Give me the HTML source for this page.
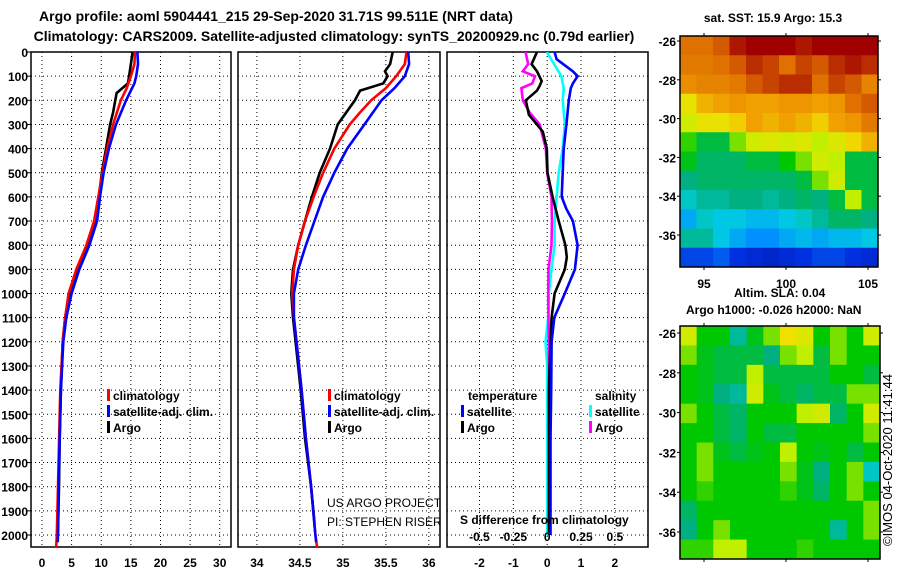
<!DOCTYPE html>
<html><head><meta charset="utf-8">
<style>
html,body{margin:0;padding:0;background:#fff;}
svg{display:block;font-family:"Liberation Sans",sans-serif;}
.b{font-weight:bold;font-size:12px;}
.t{font-weight:bold;font-size:14px;}
</style></head>
<body>
<svg id="fig" width="900" height="580" viewBox="0 0 900 580" xmlns="http://www.w3.org/2000/svg">
<rect width="900" height="580" fill="#fff"/>
<text class="t" x="276" y="21" text-anchor="middle">Argo profile: aoml 5904441_215 29-Sep-2020 31.71S 99.511E (NRT data)</text>
<text class="t" x="334" y="41" text-anchor="middle">Climatology: CARS2009. Satellite-adjusted climatology: synTS_20200929.nc (0.79d earlier)</text>
<text class="b" x="773" y="22" text-anchor="middle">sat. SST: 15.9 Argo: 15.3</text>
<text class="b" x="734" y="297">Altim. SLA: 0.04</text>
<text class="b" x="686" y="314">Argo h1000: -0.026 h2000: NaN</text>
<text x="892" y="460" font-size="13" text-anchor="middle" transform="rotate(-90 892 460)">©IMOS 04-Oct-2020 11:41:44</text>
<g id="plots"></g>
</svg>
<script>
// ---- data ----
const depthT = [0,50,100,130,170,250,300,400,500,600,700,800,900,1000,1100,1200,1400,1600,1800,1990];
const argoT  = [15.3,15.0,14.7,14.5,12.6,12.0,11.5,10.8,10.1,9.6,9.1,7.9,6.1,4.7,3.9,3.5,3.2,3.0,2.87,2.7];
const depthC = [0,50,100,150,200,300,400,500,600,700,800,900,1000,1100,1200,1400,1600,1800,2000,2050];
const climT  = [15.7,15.6,15.0,14.3,13.3,12.0,11.0,10.2,9.5,8.8,7.5,5.8,4.5,3.9,3.5,3.1,2.9,2.7,2.5,2.4];
const depthS2= [0,50,100,130,200,300,400,500,600,700,800,900,1000,1100,1200,1400,1600,1800,2000,2030];
const satT   = [16.1,16.2,15.9,15.6,14.2,12.5,11.3,10.4,9.8,9.3,8.0,6.3,5.0,4.1,3.6,3.2,3.0,2.8,2.7,2.65];

const depthAS = [0,50,80,100,130,160,200,250,300,400,500,600,700,800,900,1000,1100,1200,1400,1600,1800,1950];
const argoS   = [35.58,35.55,35.49,35.52,35.47,35.2,35.14,35.04,34.94,34.85,34.73,34.64,34.56,34.48,34.42,34.40,34.42,34.45,34.51,34.56,34.63,34.67];
const depthCS = [0,50,100,150,200,250,300,400,500,600,700,800,900,1000,1100,1200,1400,1600,1800,2000,2050];
const climS   = [35.74,35.72,35.62,35.5,35.33,35.2,35.08,34.9,34.77,34.66,34.56,34.48,34.43,34.41,34.43,34.46,34.52,34.57,34.63,34.68,34.70];
const depthSS = [0,50,100,150,200,300,400,500,600,700,800,900,1000,1100,1200,1400,1600,1800,2000,2030];
const satS    = [35.76,35.77,35.72,35.6,35.45,35.25,35.05,34.9,34.77,34.67,34.57,34.48,34.43,34.43,34.46,34.52,34.57,34.63,34.68,34.69];

const depthDT = [0,30,80,100,130,150,200,300,400,500,600,650,700,800,900,1000,1100,1200,1400,1600,2000];
const satDT   = [0.22,0.28,0.76,0.9,0.76,0.7,0.64,0.57,0.49,0.46,0.43,0.57,0.76,0.9,0.82,0.52,0.21,0.13,0.12,0.1,0.1];
const depthAD = [0,50,80,120,140,160,200,260,300,330,400,500,600,700,800,850,900,1000,1100,1200,1400,1990];
const argoDT  = [-0.3,-0.46,-0.3,-0.16,-0.22,-0.3,-0.63,-0.54,-0.3,-0.13,-0.01,0.01,0.16,0.34,0.54,0.58,0.52,0.22,0.13,0.1,0.05,0.05];
const depthAS2= [0,50,80,100,130,150,200,250,300,400,500,600,700,800,900,1000,1200,1600,1990];
const argoDS  = [-0.16,-0.14,-0.18,-0.09,-0.11,-0.19,-0.18,-0.13,-0.055,-0.01,0.0,0.032,0.035,0.032,0.01,0.008,0.012,0.015,0.015];
const depthSS2= [0,100,150,200,300,400,500,600,700,800,900,1000,1100,1200,1300,1400,2000];
const satDS   = [-0.003,0.105,0.122,0.115,0.13,0.115,0.085,0.07,0.055,0.055,0.032,0.012,0.008,-0.012,0.0,0.0,0.0];

const sstGrid = [
[0.82,0.82,0.84,0.9,0.92,0.92,0.92,0.9,0.92,0.92,0.92,0.92],
[0.8,0.8,0.82,0.84,0.88,0.86,0.82,0.86,0.84,0.88,0.9,0.88],
[0.76,0.78,0.78,0.8,0.84,0.86,0.88,0.88,0.82,0.86,0.84,0.78],
[0.64,0.7,0.72,0.74,0.72,0.72,0.74,0.74,0.72,0.74,0.82,0.84],
[0.6,0.64,0.64,0.67,0.72,0.7,0.72,0.7,0.67,0.72,0.74,0.8],
[0.52,0.45,0.45,0.55,0.6,0.62,0.6,0.62,0.58,0.62,0.66,0.7],
[0.48,0.42,0.42,0.42,0.45,0.45,0.5,0.55,0.6,0.58,0.45,0.45],
[0.4,0.42,0.42,0.42,0.42,0.42,0.42,0.45,0.55,0.6,0.45,0.45],
[0.35,0.38,0.38,0.4,0.4,0.38,0.4,0.42,0.4,0.45,0.58,0.45],
[0.28,0.35,0.32,0.32,0.3,0.3,0.32,0.35,0.38,0.42,0.42,0.4],
[0.38,0.38,0.32,0.28,0.25,0.25,0.28,0.3,0.28,0.3,0.3,0.32],
[0.15,0.15,0.18,0.12,0.1,0.08,0.1,0.12,0.15,0.15,0.12,0.1]];
const slaGrid = [
[0.6,0.5,0.5,0.38,0.48,0.55,0.65,0.62,0.5,0.55,0.5,0.6],
[0.55,0.48,0.45,0.45,0.45,0.4,0.55,0.58,0.45,0.55,0.5,0.5],
[0.5,0.48,0.45,0.45,0.58,0.45,0.45,0.45,0.45,0.5,0.5,0.45],
[0.5,0.48,0.4,0.38,0.6,0.48,0.45,0.42,0.45,0.45,0.55,0.55],
[0.55,0.5,0.45,0.42,0.5,0.5,0.5,0.58,0.6,0.42,0.5,0.6],
[0.5,0.5,0.45,0.42,0.5,0.45,0.45,0.5,0.5,0.5,0.5,0.55],
[0.5,0.55,0.48,0.45,0.48,0.5,0.58,0.5,0.48,0.5,0.45,0.5],
[0.5,0.55,0.5,0.5,0.5,0.5,0.55,0.48,0.4,0.5,0.55,0.35],
[0.5,0.52,0.5,0.5,0.5,0.5,0.52,0.48,0.42,0.5,0.55,0.5],
[0.42,0.5,0.5,0.5,0.5,0.5,0.5,0.5,0.5,0.5,0.5,0.55],
[0.4,0.5,0.55,0.5,0.5,0.5,0.5,0.5,0.5,0.38,0.5,0.55],
[0.52,0.52,0.58,0.58,0.5,0.5,0.5,0.52,0.5,0.5,0.5,0.5]];
const depthTicks = [0,100,200,300,400,500,600,700,800,900,1000,1100,1200,1300,1400,1500,1600,1700,1800,1900,2000];
const tTicks = [0,5,10,15,20,25,30];
const sTicks = [34,34.5,35,35.5,36];
const sTickLabels = ["34","34.5","35","35.5","36"];
const dTicks = [-2,-1,0,1,2];
const latTicks = [-26,-28,-30,-32,-34,-36];
const lonTicks = [95,100,105];

// ---- helpers ----
const NS="http://www.w3.org/2000/svg";
const root=document.getElementById('plots');
function mk(tag,attrs,parent){const e=document.createElementNS(NS,tag);for(const k in attrs)e.setAttribute(k,attrs[k]);(parent||root).appendChild(e);return e;}
const Y0=52, PXM=0.2415;
const yD=d=>Y0+d*PXM;
const YB=547;

const panels=[
 {name:'temperature',x0:31,x1:231,vmin:-1.85,vmax:31.9,ticks:tTicks,labels:tTicks.map(String)},
 {name:'salinity',x0:238,x1:440,vmin:33.78,vmax:36.13,ticks:sTicks,labels:sTickLabels},
 {name:'difference',x0:447,x1:648,vmin:-2.96,vmax:2.98,ticks:dTicks,labels:dTicks.map(String)}
];
panels.forEach((p,i)=>{
  p.sx=v=>p.x0+(v-p.vmin)/(p.vmax-p.vmin)*(p.x1-p.x0);
  const g=mk('g',{});
  
  
  p.g=g;
  const cp=mk('clipPath',{id:'cp'+i},g);
  mk('rect',{x:p.x0,y:Y0,width:p.x1-p.x0,height:YB-Y0},cp);
  depthTicks.forEach(d=>{
    const l=mk('line',{x1:p.x0,x2:p.x1,y1:yD(d),y2:yD(d),stroke:'#000','stroke-width':1,'stroke-dasharray':'1 3'},g);
    
    
    if(i===0){
      mk('line',{x1:p.x0-4,x2:p.x0,y1:yD(d),y2:yD(d),stroke:'#000'},g);
      const t=mk('text',{x:28,y:yD(d)+5,'text-anchor':'end','class':'b'},g);
      t.textContent=d;
      
      
    }
  });
  p.ticks.forEach((v,k)=>{
    const x=p.sx(v);
    mk('line',{x1:x,x2:x,y1:Y0,y2:YB,stroke:'#000','stroke-dasharray':'1 3'},g);
    const t=mk('text',{x:x,y:567,'text-anchor':'middle','class':'b'},g);
    t.textContent=p.labels[k];
    
    
  });
  const fr=mk('rect',{x:p.x0,y:Y0,width:p.x1-p.x0,height:YB-Y0,fill:'none',stroke:'#000','stroke-width':1.5},g);
  
  
});
function line(p,ds,vs,col,name,scale){
  const pts=ds.map((d,k)=>p.sx(vs[k]*(scale||1)).toFixed(1)+','+yD(d).toFixed(1)).join(' ');
  const e=mk('polyline',{points:pts,fill:'none',stroke:col,'stroke-width':2.6,'clip-path':'url(#cp'+panels.indexOf(p)+')'},p.g);
  
  
}
line(panels[0],depthT,argoT,'#000','argo-temperature-line');
line(panels[0],depthC,climT,'#f00','climatology-temperature-line');
line(panels[0],depthS2,satT,'#00f','satellite-temperature-line');
line(panels[1],depthAS,argoS,'#000','argo-salinity-line');
line(panels[1],depthCS,climS,'#f00','climatology-salinity-line');
line(panels[1],depthSS,satS,'#00f','satellite-salinity-line');
line(panels[2],depthSS2,satDS,'#0ff','satellite-salinity-diff-line',4);
line(panels[2],depthAS2,argoDS,'#f0f','argo-salinity-diff-line',4);
line(panels[2],depthAD,argoDT,'#000','argo-temperature-diff-line');
line(panels[2],depthDT,satDT,'#00f','satellite-temperature-diff-line');

function legend(x,y,col,label,name){
  const g=mk('g',{});
  
  
  mk('rect',{x:x,y:y-11,width:3,height:12,fill:col},g);
  const t=mk('text',{x:x+6,y:y,'class':'b'},g);t.textContent=label;
}
function txt(x,y,s,name,extra){const t=mk('text',Object.assign({x:x,y:y,'class':'b'},extra||{}));t.textContent=s;return t;}
legend(107,400,'#f00','climatology','legend-climatology');
legend(107,416,'#00f','satellite-adj. clim.','legend-satellite-adj');
legend(107,432,'#000','Argo','legend-argo');
legend(328,400,'#f00','climatology','legend-climatology-s');
legend(328,416,'#00f','satellite-adj. clim.','legend-satellite-adj-s');
legend(328,432,'#000','Argo','legend-argo-s');
txt(468,400,'temperature','legend-temperature-heading');
txt(595,400,'salinity','legend-salinity-heading');
legend(461,416,'#00f','satellite','legend-temp-satellite');
legend(461,432,'#000','Argo','legend-temp-argo');
legend(589,416,'#0ff','satellite','legend-sal-satellite');
legend(589,432,'#f0f','Argo','legend-sal-argo');
txt(327,507,'US ARGO PROJECT','pi-project',{'class':'','font-size':'12','clip-path':'url(#cp1)'});
txt(327,526,'PI: STEPHEN RISER','pi-name',{'class':'','font-size':'12','clip-path':'url(#cp1)'});
txt(460,524,'S difference from climatology','s-diff-axis-title');
[-0.5,-0.25,0,0.25,0.5].forEach(v=>{txt(panels[2].sx(v*4),541,String(v),'s-diff-tick-label',{'text-anchor':'middle'});});

// ---- maps ----
const stops=[[0,'#00109a'],[0.12,'#0030e0'],[0.25,'#0090ff'],[0.33,'#00d0e0'],[0.4,'#00b080'],[0.5,'#00c800'],[0.58,'#c0f000'],[0.65,'#f0e000'],[0.72,'#f0a000'],[0.82,'#e07000'],[0.92,'#a00000'],[1,'#900000']];
function hex(c){return [1,3,5].map(i=>parseInt(c.substr(i,2),16));}
function cmap(v){for(let i=1;i<stops.length;i++){if(v<=stops[i][0]){const a=stops[i-1],b=stops[i],f=(v-a[0])/(b[0]-a[0]);const A=hex(a[1]),B=hex(b[1]);return 'rgb('+A.map((x,k)=>Math.round(x+(B[k]-x)*f)).join(',')+')';}}return stops[stops.length-1][1];}
function map(grid,x0,y0,x1,y1,latA,yA,latB,yB,name){
  const g=mk('g',{});
  
  
  const R=grid.length,C=grid[0].length,w=(x1-x0)/C,h=(y1-y0)/R;
  grid.forEach((row,r)=>row.forEach((v,c)=>{
    const cell=mk('rect',{x:(x0+c*w).toFixed(2),y:(y0+r*h).toFixed(2),width:(w+0.5).toFixed(2),height:(h+0.5).toFixed(2),fill:cmap(v)},g);
    
    
  }));
  mk('rect',{x:x0,y:y0,width:x1-x0,height:y1-y0,fill:'none',stroke:'#000','stroke-width':1.5},g);
  const ly=lat=>yA+(lat-latA)*(yB-yA)/(latB-latA);
  latTicks.forEach(l=>{
    const y=ly(l);
    mk('line',{x1:x0-3,x2:x0,y1:y,y2:y,stroke:'#000'},g);
    mk('line',{x1:x1,x2:x1+3,y1:y,y2:y,stroke:'#000'},g);
    const t=mk('text',{x:x0-4,y:y+5,'text-anchor':'end','class':'b'},g);t.textContent=l;
  });
  const lx=lon=>704+(lon-95)*16.4;
  lonTicks.forEach(l=>{
    mk('line',{x1:lx(l),x2:lx(l),y1:y0-3,y2:y0,stroke:'#000'},g);
    mk('line',{x1:lx(l),x2:lx(l),y1:y1,y2:y1+3,stroke:'#000'},g);
  });
  return lx;
}
const lx=map(sstGrid,680,36,878,267,-26,41,-36,235,'sst-map');
lonTicks.forEach(l=>txt(lx(l),288,String(l),'lon-tick-label',{'text-anchor':'middle'}));
map(slaGrid,680,326,880,559,-26,333,-36,532,'sla-map');
</script>
</body></html>
